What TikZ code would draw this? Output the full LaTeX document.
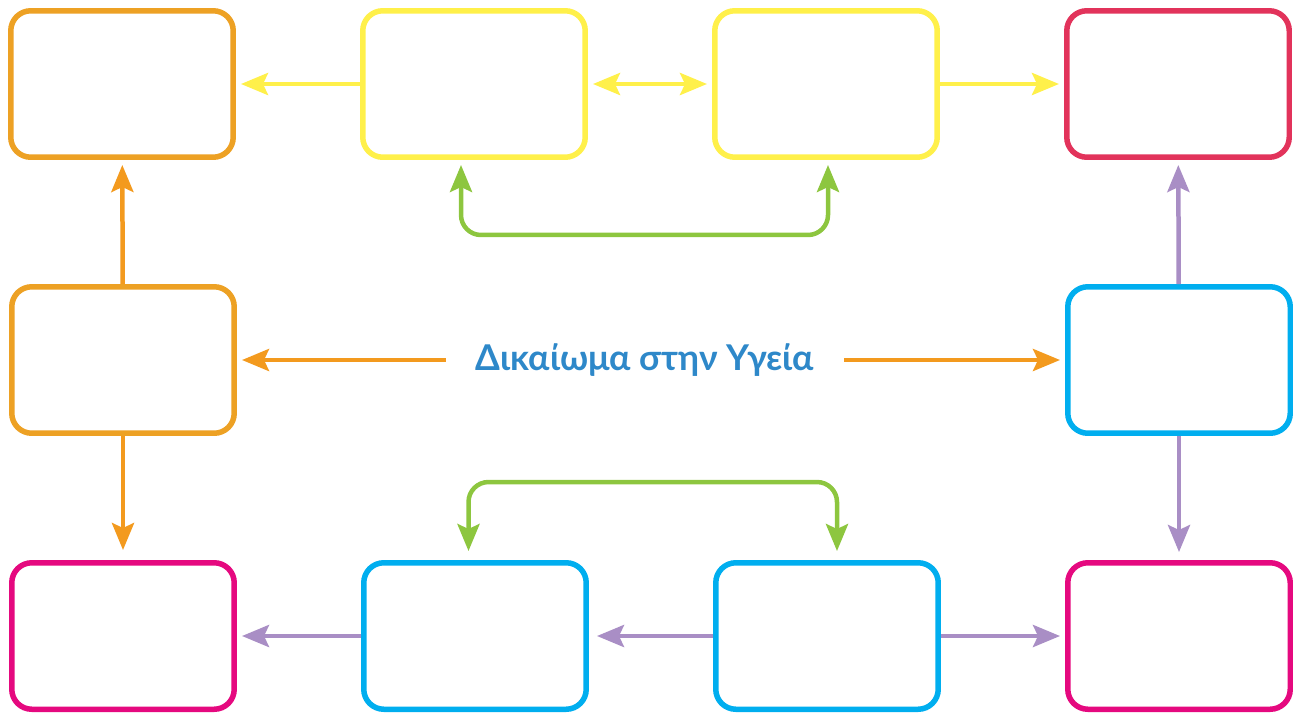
\documentclass[tikz,border=0pt]{standalone}
\usepackage{fontspec}
\setmainfont{Lato}
\usetikzlibrary{arrows.meta}
\definecolor{boxorange}{HTML}{EDA124}
\definecolor{arrorange}{HTML}{F39A1E}
\definecolor{hyellow}{HTML}{FFF04A}
\definecolor{hred}{HTML}{E2335B}
\definecolor{hcyan}{HTML}{00AEEF}
\definecolor{hmagenta}{HTML}{E5097F}
\definecolor{hpurple}{HTML}{A98EC5}
\definecolor{hgreen}{HTML}{8DC63F}
\definecolor{hblue}{HTML}{2E88C9}
\tikzset{
  box/.style={draw=#1,line width=0.11cm,rounded corners=0.4cm,
    minimum width=4.45cm,minimum height=2.93cm,fill=white},
  link/.style={draw=#1,line width=0.09cm,
    -{Stealth[length=0.54cm,width=0.44cm,inset=0.1cm]},shorten >=0.1cm},
  biglink/.style={link=#1,{Stealth[length=0.54cm,width=0.44cm,inset=0.1cm]}-{Stealth[length=0.54cm,width=0.44cm,inset=0.1cm]},shorten <=0.1cm}
}
\begin{document}
\begin{tikzpicture}[x=0.02cm,y=-0.02cm]
   \useasboundingbox (0,0) rectangle (1297,714);
   \foreach \n/\x/\y/\c in {top1/122/84/boxorange,top2/474/84/hyellow,
     top3/826/84/hyellow,top4/1178/84/hred,mid1/123/360/boxorange,
     mid2/1179/360/hcyan,bot1/123/636/hmagenta,bot2/475/636/hcyan,
     bot3/827/636/hcyan,bot4/1179/636/hmagenta} {
    \node[box=\c] (\n) at (\x,\y) {};
   }
   \node[text=hblue,font=\bfseries\fontsize{20.2}{24}\selectfont,
     inner xsep=0.6cm] (title) at (645,360) {Δικαίωμα στην Υγεία};
   \draw[link=hyellow] (top2) -- (top1);
   \draw[biglink=hyellow] (top2) -- (top3);
   \draw[link=hyellow] (top3) -- (top4);
   \draw[link=arrorange] (mid1) -- (top1);
   \draw[link=arrorange,shorten >=0.2cm] (mid1) -- (bot1);
   \draw[link=arrorange] (title) -- (mid1);
   \draw[link=arrorange] (title) -- (mid2);
   \draw[link=hpurple] (mid2) -- (top4);
   \draw[link=hpurple,shorten >=0.16cm] (mid2) -- (bot4);
   \draw[link=hpurple] (bot2) -- (bot1);
   \draw[link=hpurple,shorten >=0.16cm] (bot3) -- (bot2);
   \draw[link=hpurple] (bot3) -- (bot4);
   \draw[biglink=hgreen,rounded corners=0.4cm]
     ([xshift=-0.26cm]top2.south) -- ++(0,75) -| ([xshift=0.04cm]top3.south);
   \draw[biglink=hgreen,rounded corners=0.4cm,shorten <=0.18cm,shorten >=0.18cm]
     ([xshift=-0.13cm]bot2.north) -- ++(0,-78) -| ([xshift=0.2cm]bot3.north);
\end{tikzpicture}
\end{document}
